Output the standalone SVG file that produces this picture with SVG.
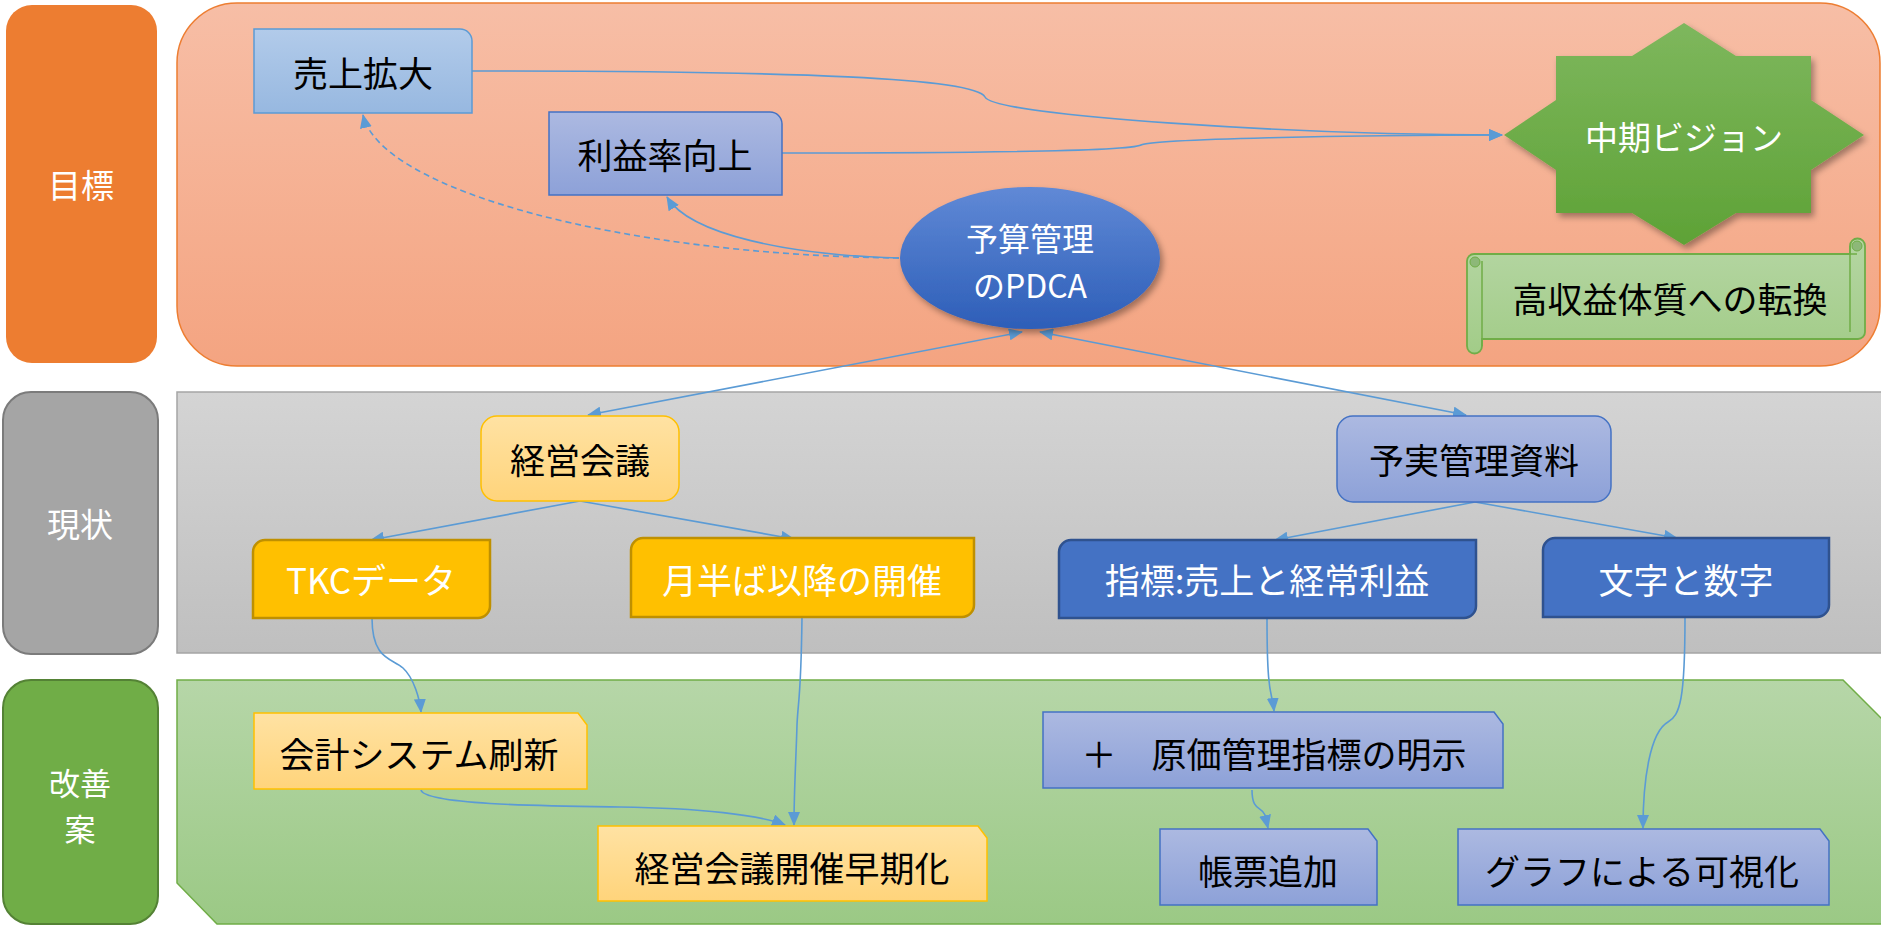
<svg xmlns="http://www.w3.org/2000/svg" width="1881" height="926" viewBox="0 0 1881 926">
<defs>
<linearGradient id="gTop" x1="0" y1="0" x2="0" y2="1"><stop offset="0" stop-color="#F7BEA6"/><stop offset="1" stop-color="#F4A481"/></linearGradient>
<linearGradient id="gGrey" x1="0" y1="0" x2="0" y2="1"><stop offset="0" stop-color="#D4D4D4"/><stop offset="1" stop-color="#BFBFBF"/></linearGradient>
<linearGradient id="gGreen" x1="0" y1="0" x2="0" y2="1"><stop offset="0" stop-color="#B6D6A8"/><stop offset="1" stop-color="#9BC985"/></linearGradient>
<linearGradient id="gLb" x1="0" y1="0" x2="0" y2="1"><stop offset="0" stop-color="#B2CBEA"/><stop offset="1" stop-color="#97B8E0"/></linearGradient>
<linearGradient id="gPw" x1="0" y1="0" x2="0" y2="1"><stop offset="0" stop-color="#ACB9E1"/><stop offset="1" stop-color="#8DA1D8"/></linearGradient>
<linearGradient id="gGold" x1="0" y1="0" x2="0" y2="1"><stop offset="0" stop-color="#FFE2A3"/><stop offset="1" stop-color="#FFD47B"/></linearGradient>
<linearGradient id="gEll" x1="0" y1="0" x2="0" y2="1"><stop offset="0" stop-color="#6089D6"/><stop offset="1" stop-color="#2D5EB8"/></linearGradient>
<linearGradient id="gStar" x1="0" y1="0" x2="0" y2="1"><stop offset="0" stop-color="#7EB75D"/><stop offset="1" stop-color="#5EA236"/></linearGradient>
<linearGradient id="gScroll" x1="0" y1="0" x2="0" y2="1"><stop offset="0" stop-color="#B5D6A3"/><stop offset="1" stop-color="#A2CC88"/></linearGradient>
<filter id="sh" x="-20%" y="-20%" width="140%" height="140%"><feDropShadow dx="3" dy="4" stdDeviation="3" flood-color="#000" flood-opacity="0.35"/></filter>
<marker id="arr" viewBox="0 0 14 12" refX="13" refY="6" markerWidth="14" markerHeight="12" markerUnits="userSpaceOnUse" orient="auto-start-reverse"><path d="M0,0 L14,6 L0,12 Z" fill="#5B9BD5"/></marker>
<style>
.t{font-family:"Noto Sans CJK JP","Noto Sans",sans-serif;font-size:35px;text-anchor:middle;dominant-baseline:central}
.w{fill:#FFFFFF}
.k{fill:#000000}
.lab{font-family:"Noto Sans CJK JP","Noto Sans",sans-serif;font-size:33px;text-anchor:middle;dominant-baseline:central;fill:#FFFFFF}
.con{fill:none;stroke:#5B9BD5;stroke-width:1.6}
.lb{fill:url(#gLb);stroke:#5B9BD5;stroke-width:1.5}
.pw{fill:url(#gPw);stroke:#4472C4;stroke-width:1.5}
.gl{fill:url(#gGold);stroke:#FFC000;stroke-width:1.5}
.gs{fill:#FFC000;stroke:#BF9000;stroke-width:2.5}
.bs{fill:#4472C4;stroke:#2F528F;stroke-width:2.5}
</style>
</defs>

<g id="bands">
<rect x="177" y="3" width="1703" height="363" rx="60" fill="url(#gTop)" stroke="#ED7D31" stroke-width="1.5"/>
<rect x="177" y="392" width="1710" height="261" fill="url(#gGrey)" stroke="#A5A5A5" stroke-width="1.5"/>
<path d="M177,680 H1843 L1885,722 V924 H217 L177,883 Z" fill="url(#gGreen)" stroke="#70AD47" stroke-width="1.5"/>
</g>

<g id="label-mokuhyo">
<rect x="6" y="5" width="151" height="358" rx="26" fill="#ED7D31"/>
<text class="lab" x="81" y="184">目標</text>
</g>
<g id="label-genjo">
<rect x="3" y="392" width="155" height="262" rx="28" fill="#A5A5A5" stroke="#7B7B7B" stroke-width="2"/>
<text class="lab" x="80" y="523">現状</text>
</g>
<g id="label-kaizen">
<rect x="3" y="680" width="155" height="244" rx="28" fill="#70AD47" stroke="#548235" stroke-width="2"/>
<text class="lab" style="font-size:31px" x="80" y="781"><tspan x="80" y="781">改善</tspan><tspan x="80" y="827">案</tspan></text>
</g>

<g id="connectors">
<path class="con" d="M472,71 C800,71 975,78 985,97 C995,116 1300,135 1502,135" marker-end="url(#arr)"/>
<path class="con" d="M782,153 C1000,153 1130,151 1141,145 C1152,139 1350,135 1502,135" marker-end="url(#arr)"/>
<path class="con" d="M899,258 C790,255 690,235 667,197" marker-end="url(#arr)"/>
<path class="con" d="M899,258 C620,255 380,190 363,115" stroke-dasharray="6,4" marker-end="url(#arr)"/>
<path class="con" d="M588,415 L1022,332" marker-start="url(#arr)" marker-end="url(#arr)"/>
<path class="con" d="M1040,332 L1466,415" marker-start="url(#arr)" marker-end="url(#arr)"/>
<path class="con" d="M580,501 L371,540" marker-end="url(#arr)"/>
<path class="con" d="M580,501 L794,539" marker-end="url(#arr)"/>
<path class="con" d="M1475,502 L1275,540" marker-end="url(#arr)"/>
<path class="con" d="M1475,502 L1677,538" marker-end="url(#arr)"/>
<path class="con" d="M372,618 C372,660 392,658 403,668 C414,678 420,700 421,712" marker-end="url(#arr)"/>
<path class="con" d="M802,617 C801,700 798,700 797,725 C796,760 794,790 794,825" marker-end="url(#arr)"/>
<path class="con" d="M421,790 C425,805 550,806 620,807 C700,808 760,815 785,825" marker-end="url(#arr)"/>
<path class="con" d="M1267,618 C1267,700 1272,690 1274,711" marker-end="url(#arr)"/>
<path class="con" d="M1252,790 C1252,812 1262,806 1265,815 L1268,828" marker-end="url(#arr)"/>
<path class="con" d="M1685,617 C1685,700 1680,715 1668,722 C1650,732 1643,780 1643,828" marker-end="url(#arr)"/>
</g>

<g id="n-uriage">
<path class="lb" d="M254,29 H460 A12,12 0 0 1 472,41 V113 H254 Z"/>
<text class="t k" x="363" y="71">売上拡大</text>
</g>
<g id="n-rieki">
<path class="pw" d="M549,112 H770 A12,12 0 0 1 782,124 V195 H549 Z"/>
<text class="t k" x="665" y="153">利益率向上</text>
</g>
<g id="n-pdca">
<ellipse cx="1030" cy="258" rx="130" ry="71" fill="url(#gEll)" filter="url(#sh)"/>
<text class="t w" style="font-size:32px" x="1030" y="237"><tspan x="1030" y="237">予算管理</tspan><tspan x="1030" y="284">のPDCA</tspan></text>
</g>
<g id="n-vision">
<path d="M1684,23 L1736,56 L1811,56 L1811,100 L1864,135 L1811,170 L1811,213 L1736,213 L1684,245 L1632,213 L1556,213 L1556,170 L1504,135 L1556,100 L1556,56 L1632,56 Z" fill="url(#gStar)" filter="url(#sh)"/>
<text class="t w" x="1684" y="136" style="font-size:33px">中期ビジョン</text>
</g>
<g id="n-kousyueki">
<path d="M1474,254 H1850 V246 A7.5,7.5 0 0 1 1865,246 V332 A7,7 0 0 1 1858,339 H1482 V346 A7.5,7.5 0 0 1 1467,346 V261 A7,7 0 0 1 1474,254 Z" fill="url(#gScroll)" stroke="#70AD47" stroke-width="1.8"/>
<path d="M1482,261 V346 M1850,246 V332 M1850,254 H1857" fill="none" stroke="#70AD47" stroke-width="1.5"/>
<circle cx="1475" cy="262" r="5" fill="#8DB878" stroke="#70AD47" stroke-width="1"/>
<circle cx="1857" cy="246" r="5" fill="#8DB878" stroke="#70AD47" stroke-width="1"/>
<text class="t k" x="1670" y="297">高収益体質への転換</text>
</g>

<g id="n-keiei">
<rect class="gl" x="481" y="416" width="198" height="85" rx="16"/>
<text class="t k" x="580" y="458">経営会議</text>
</g>
<g id="n-tkc">
<path class="gs" d="M265,540 H490 V606 A12,12 0 0 1 478,618 H253 V552 A12,12 0 0 1 265,540 Z"/>
<text class="t w" x="371" y="578">TKCデータ</text>
</g>
<g id="n-tsukinakaba">
<path class="gs" d="M643,538 H974 V605 A12,12 0 0 1 962,617 H631 V550 A12,12 0 0 1 643,538 Z"/>
<text class="t w" x="802" y="578">月半ば以降の開催</text>
</g>
<g id="n-yojitsu">
<rect class="pw" x="1337" y="416" width="274" height="86" rx="16"/>
<text class="t k" x="1474" y="458">予実管理資料</text>
</g>
<g id="n-shihyo">
<path class="bs" d="M1071,540 H1476 V606 A12,12 0 0 1 1464,618 H1059 V552 A12,12 0 0 1 1071,540 Z"/>
<text class="t w" x="1267" y="578">指標:売上と経常利益</text>
</g>
<g id="n-moji">
<path class="bs" d="M1555,538 H1829 V605 A12,12 0 0 1 1817,617 H1543 V550 A12,12 0 0 1 1555,538 Z"/>
<text class="t w" x="1686" y="578">文字と数字</text>
</g>

<g id="n-kaikei">
<path class="gl" d="M254,713 H578 L587,725 V789 H254 Z"/>
<text class="t k" x="419" y="752">会計システム刷新</text>
</g>
<g id="n-soukika">
<path class="gl" d="M598,826 H978 L987,838 V901 H598 Z"/>
<text class="t k" x="792" y="866">経営会議開催早期化</text>
</g>
<g id="n-genka">
<path class="pw" d="M1043,712 H1494 L1503,724 V788 H1043 Z"/>
<text class="t k" x="1274" y="752">＋　原価管理指標の明示</text>
</g>
<g id="n-chohyo">
<path class="pw" d="M1160,829 H1368 L1377,841 V905 H1160 Z"/>
<text class="t k" x="1268" y="869">帳票追加</text>
</g>
<g id="n-graph">
<path class="pw" d="M1458,829 H1820 L1829,841 V905 H1458 Z"/>
<text class="t k" x="1642" y="869">グラフによる可視化</text>
</g>
</svg>
